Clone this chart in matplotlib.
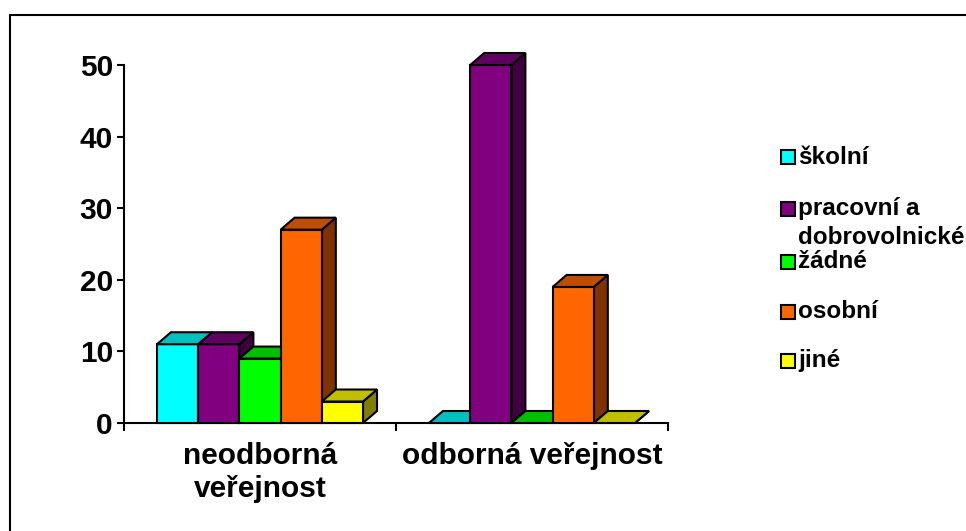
import numpy as np
import matplotlib
matplotlib.use("Agg")
import matplotlib.pyplot as plt
from matplotlib.patches import Rectangle, Polygon
from matplotlib.colors import to_rgb

plt.rcParams["font.family"] = ["Liberation Sans", "DejaVu Sans"]
plt.rcParams["font.weight"] = "bold"

# ─── Data ──────────────────────────────────────────────────────────
categories = ["neodborná\nveřejnost", "odborná veřejnost"]
series = ["školní", "pracovní a\ndobrovolnické", "žádné", "osobní", "jiné"]
skolni = [11, 0]
pracovni = [11, 50]
zadne = [9, 0]
osobni = [27, 19]
jine = [3, 0]
values = [skolni, pracovni, zadne, osobni, jine]
colors = ["#00FFFF", "#800080", "#00FF00", "#FF6600", "#FFFF00"]
yticks = [0, 10, 20, 30, 40, 50]

W, H = 966, 531
fig = plt.figure(figsize=(W / 100, H / 100), dpi=100)

# axes box in pixels: x 124..668, y(0)=423, y(50)=65
ax = fig.add_axes([124 / W, (H - 423) / H, (668 - 124) / W, (423 - 65) / H])
ax.set_xlim(-0.5, 1.5)
ax.set_ylim(0, 50)

bar_w = 0.1515
dx = 14 / 272          # depth offset in x (data units)
dy = 12 / 7.16         # depth offset in y (data units)


def shade(c, f):
    r, g, b = to_rgb(c)
    return (r * f, g * f, b * f)


edge = dict(edgecolor="black", linewidth=1.5, clip_on=False, joinstyle="miter")
for j in range(len(categories)):
    for i, vals in enumerate(values):
        h = vals[j]
        x0 = j + (i - 2.5) * bar_w
        x1 = x0 + bar_w
        z = 3 + i
        # side face
        ax.add_patch(Polygon([(x1, 0), (x1 + dx, dy), (x1 + dx, h + dy), (x1, h)],
                             facecolor=shade(colors[i], 0.5), zorder=z, **edge))
        # front face
        if h > 0:
            ax.add_patch(Rectangle((x0, 0), bar_w, h, facecolor=colors[i],
                                   zorder=z, **edge))
        # top face
        ax.add_patch(Polygon([(x0, h), (x1, h), (x1 + dx, h + dy), (x0 + dx, h + dy)],
                             facecolor=shade(colors[i], 0.75), zorder=z, **edge))

# ─── Axes styling ──────────────────────────────────────────────────
for s in ["top", "right"]:
    ax.spines[s].set_visible(False)
for s in ["left", "bottom"]:
    ax.spines[s].set_linewidth(1.5)
ax.set_yticks(yticks)
ax.set_yticklabels([str(t) for t in yticks], fontsize=21.5, fontweight="bold")
ax.tick_params(axis="y", length=5, width=1.5, pad=3)
ax.set_xticks([-0.5, 0.5, 1.5])
ax.set_xticklabels([])
ax.tick_params(axis="x", which="major", length=6, width=1.5)
ax.set_xticks([0, 1], minor=True)
ax.set_xticklabels(categories, minor=True, fontsize=21.5, fontweight="bold",
                   linespacing=1.2)
ax.tick_params(axis="x", which="minor", length=0, pad=14)

# ─── Legend (drawn by hand, Excel-like) ────────────────────────────
leg_y = [157, 209, 262, 312, 361]
for i, name in enumerate(series):
    y = leg_y[i]
    fig.patches.append(Rectangle((781 / W, (H - y - 7) / H), 14 / W, 14 / H,
                                 facecolor=colors[i], edgecolor="black",
                                 linewidth=1.5, transform=fig.transFigure))
    fig.text(798 / W, (H - y) / H, name.split("\n")[0], fontsize=17.5,
             fontweight="bold", va="center", ha="left")
    if "\n" in name:
        fig.text(798 / W, (H - y - 29) / H, name.split("\n")[1], fontsize=17.5,
                 fontweight="bold", va="center", ha="left")

# outer chart frame
fig.patches.append(Rectangle((10 / W, -0.1), 1.2, (H - 15) / H + 0.1,
                             facecolor="none", edgecolor="black", linewidth=1.5,
                             transform=fig.transFigure))

fig.savefig("out.png", dpi=100)
